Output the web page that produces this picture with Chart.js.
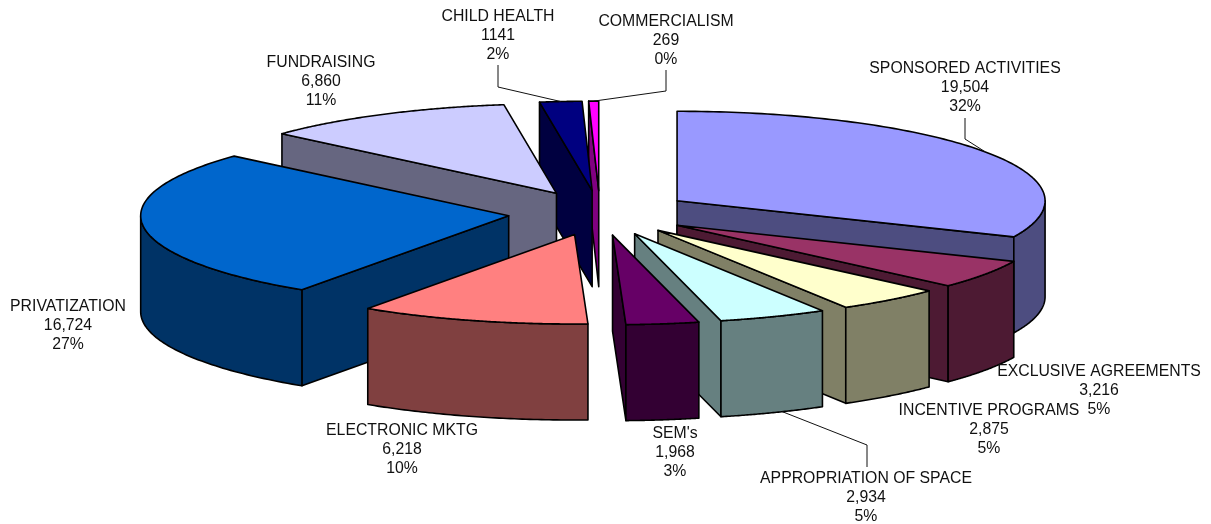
<!DOCTYPE html>
<html>
<head>
<meta charset="utf-8">
<style>html,body{margin:0;padding:0;background:#fff}#wrap{position:relative;width:1211px;height:524px}canvas{display:block}</style>
<script src="https://cdn.jsdelivr.net/npm/chart.js@4"></script>
</head>
<body>
<div id="wrap"><canvas id="c" width="1211" height="524"></canvas></div>
<script>
const categories = ["SPONSORED ACTIVITIES","EXCLUSIVE AGREEMENTS","INCENTIVE PROGRAMS","APPROPRIATION OF SPACE","SEM's","ELECTRONIC MKTG","PRIVATIZATION","FUNDRAISING","CHILD HEALTH","COMMERCIALISM"];
const values = [19504,3216,2875,2934,1968,6218,16724,6860,1141,269];
const valueLabels = ["19,504","3,216","2,875","2,934","1,968","6,218","16,724","6,860","1141","269"];
const topColors = ["#9999FF","#993366","#FFFFCC","#CCFFFF","#660066","#FF8080","#0066CC","#CCCCFF","#000080","#FF00FF"];
const sideColors = ["#4D4D80","#4D1A33","#808066","#668080","#330033","#804040","#003366","#666680","#000040","#800080"];
// label anchor: centre x, first-line centre y
const labelAnchors = [[965,69],[1099,372],[989,411],[866,479],[675,434],[402,431],[68,307],[321,63],[498,17],[666,22]];
// leader polylines: fixed points; the last point comes from the slice itself (null = no leader)
const leaderPoints = [[[965,118],[965,139]],null,null,[[867,467],[867,445]],null,null,null,null,[[498,65],[498,87]],[[666,70],[666,91]]];
const leaderOnBottom = [false,false,false,true,false,false,false,false,false,false];
const leaderFraction = [0.5,0.5,0.5,0.41,0.5,0.5,0.5,0.5,0.5,0.5];

const SQUASH = 89.5/368, HEIGHT = 96, LINE_H = 18.6;

const pie3d = {
  id:'pie3d',
  beforeDatasetsDraw(chart){
    const arcs = chart.getDatasetMeta(0).data, ctx = chart.ctx;
    const geo = a => {
      const o = a.options.offset, mid = (a.startAngle+a.endAngle)/2;
      const ax = a.x + o*Math.cos(mid), ay = a.y + o*Math.sin(mid)*SQUASH;
      const pt = t => [ax + a.outerRadius*Math.cos(t), ay + a.outerRadius*Math.sin(t)*SQUASH];
      return {ax,ay,pt,s:a.startAngle,e:a.endAngle,mid};
    };
    const face = (pts,fill,bw) => {
      ctx.beginPath(); pts.forEach((p,i)=> i?ctx.lineTo(p[0],p[1]):ctx.moveTo(p[0],p[1])); ctx.closePath();
      ctx.fillStyle = fill; ctx.fill(); ctx.lineWidth = bw; ctx.strokeStyle = '#000'; ctx.lineJoin='round'; ctx.stroke();
    };
    const order = arcs.map((_,i)=>i).sort((i,j)=> Math.sin((arcs[i].startAngle+arcs[i].endAngle)/2) - Math.sin((arcs[j].startAngle+arcs[j].endAngle)/2));
    order.forEach(i=>{
      const a = arcs[i], g = geo(a), side = sideColors[i], top = topColors[i], bw = a.options.borderWidth;
      const down = p => [p[0],p[1]+HEIGHT], apex=[g.ax,g.ay];
      // canvas angles: sin(t) > 0 is the near half of the plate
      const sEdge = g.pt(g.s), eEdge = g.pt(g.e);
      if (Math.sin(g.s+Math.PI/2) < 0) face([apex,sEdge,down(sEdge),down(apex)],side,bw);
      if (Math.sin(g.e+Math.PI/2) > 0) face([apex,eEdge,down(eEdge),down(apex)],side,bw);
      const from = Math.max(g.s,0), to = Math.min(g.e,Math.PI);
      if (to>from){
        const upper=[]; const n=60;
        for(let k=0;k<=n;k++) upper.push(g.pt(from+(to-from)*k/n));
        face(upper.concat(upper.slice().reverse().map(down)),side,bw);
      }
      const rim=[apex]; const n=120;
      for(let k=0;k<=n;k++) rim.push(g.pt(g.s+(g.e-g.s)*k/n));
      face(rim,top,bw);
    });
    chart.$pie3dGeo = arcs.map(geo);
    return false;
  },
  afterDraw(chart){
    const ctx = chart.ctx, total = values.reduce((s,v)=>s+v,0), geos = chart.$pie3dGeo;
    ctx.save();
    ctx.strokeStyle='#111'; ctx.lineWidth=1;
    leaderPoints.forEach((lp,i)=>{
      if(!lp) return;
      const g=geos[i]; const p=g.pt(g.s+(g.e-g.s)*leaderFraction[i]); const y=p[1]+(leaderOnBottom[i]?HEIGHT:0);
      ctx.beginPath(); lp.forEach((q,k)=> k?ctx.lineTo(q[0],q[1]):ctx.moveTo(q[0],q[1])); ctx.lineTo(p[0],y); ctx.stroke();
    });
    ctx.fillStyle='#111'; ctx.font='15.8px "Liberation Sans", Arial, sans-serif'; ctx.textAlign='center'; ctx.textBaseline='middle';
    categories.forEach((c,i)=>{
      const [x,y]=labelAnchors[i];
      ctx.fillText(c,x,y);
      ctx.fillText(valueLabels[i],x,y+LINE_H);
      ctx.fillText(Math.round(values[i]/total*100)+'%',x,y+2*LINE_H);
    });
    ctx.restore();
  }
};

new Chart(document.getElementById('c'),{
  type:'pie',
  data:{labels:categories,datasets:[{data:values,backgroundColor:topColors,borderColor:'#000',borderWidth:1.6,offset:92,radius:368}]},
  options:{responsive:false,animation:false,rotation:0,
    layout:{padding:{left:0,right:11,top:0,bottom:98}},
    plugins:{legend:{display:false},tooltip:{enabled:false},title:{display:false}}},
  plugins:[pie3d]
});
</script>
</body>
</html>
